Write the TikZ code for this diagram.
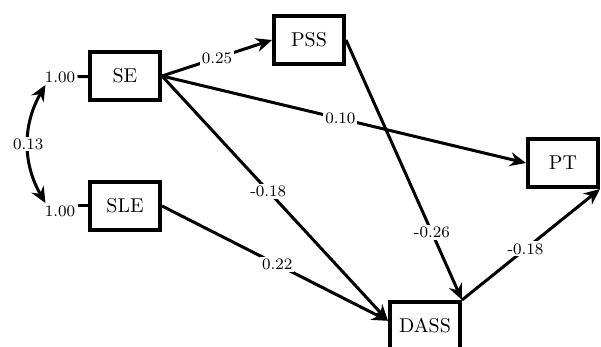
\documentclass[tikz,border=0pt]{standalone}
\usepackage{tikz}
\usetikzlibrary{arrows.meta, positioning}
\tikzset{%
	every variable/.style={
		draw,
		line width=2pt,
		minimum width=35pt,
		minimum height=24pt
	},
	path arrow/.style={
		line width=1.5pt,
		-{Stealth[length=8pt,width=7pt]}
	},
	coef/.style={
		fill=white,
		inner sep=1pt,
		font=\footnotesize
	},
}
\begin{document}
\begin{tikzpicture}[x=0.5pt, y=-0.5pt]
			\useasboundingbox (0,0) rectangle (601,347);
			
			\node[every variable] (se) at (125,76) {SE};
			\node[every variable] (sle) at (125,206) {SLE};
			\node[every variable] (pss) at (309,40) {PSS};
			\node[every variable] (pt) at (563,163) {PT};
			\node[every variable] (dass) at (425,326) {DASS};
			
			% variances and covariance
			\node[coef] (sevar) at (60,77) {1.00};
			\node[coef] (slevar) at (60,211) {1.00};
			\draw[line width=1.5pt] (sevar) -- (se);
			\draw[line width=1.5pt] (slevar.east |- sle) -- (sle);
			\draw[path arrow, {Stealth[length=8pt,width=7pt]}-{Stealth[length=8pt,width=7pt]}]
				([xshift=1.5pt]sevar.south west) to[out=240, in=120]
				node[coef] (cov) {0.13} ([xshift=1.5pt]slevar.north west);
			
			% paths
			\draw[path arrow] (se.east) -- node[coef] (b1) {0.25} (pss.west);
			\draw[path arrow] (se.east) -- node[coef, pos=0.49] (b2) {0.10} (pt.west);
			\draw[path arrow] (se.east) -- node[coef, pos=0.47] (b3) {-0.18} (dass.172);
			\draw[path arrow] (sle.east) -- node[coef, pos=0.51] (b4) {0.22} (dass.172);
			\draw[path arrow] (pss.east) -- node[coef, pos=0.74] (b5) {-0.26} (dass.north east);
			\draw[path arrow] (dass.north east) -- node[coef, pos=0.46] (b6) {-0.18} (pt.south east);
		\end{tikzpicture}
\end{document}
